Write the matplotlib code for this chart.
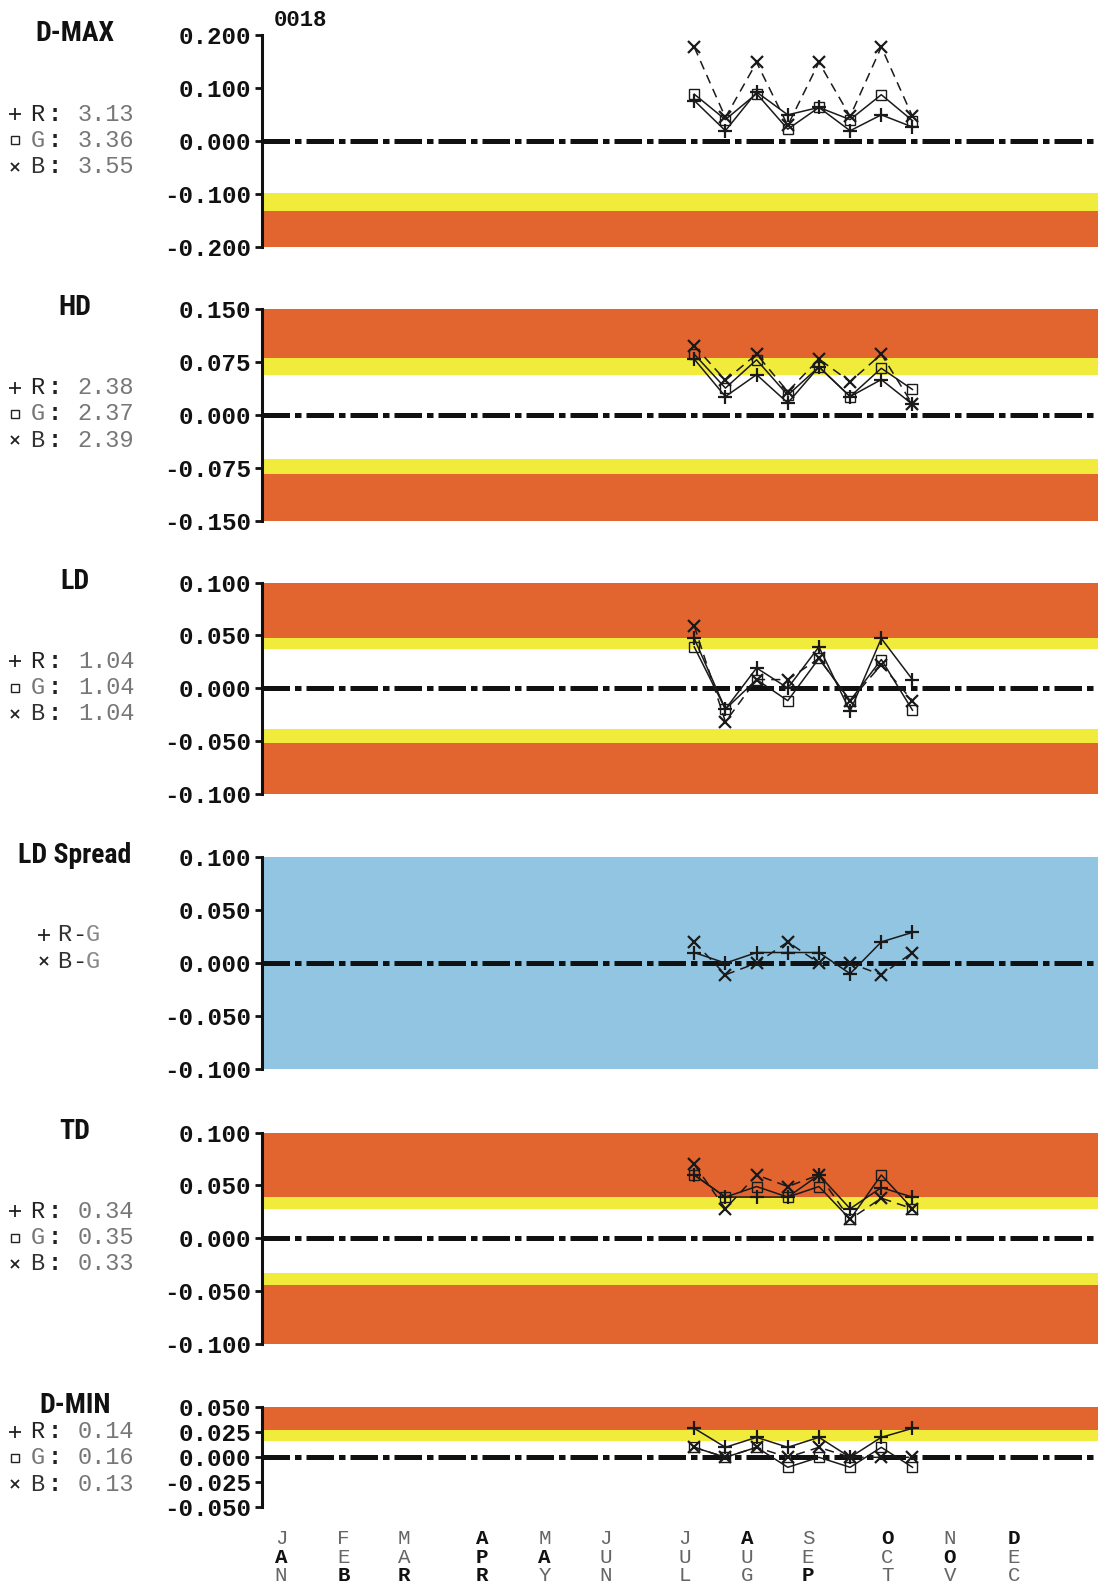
import matplotlib
matplotlib.use('Agg')
import matplotlib.pyplot as plt
from matplotlib.lines import Line2D
from matplotlib.transforms import blended_transform_factory
from matplotlib import font_manager as fm

plt.rcParams['axes.unicode_minus'] = False

# ---------------- data ----------------
weeks = [27.7, 29.7, 31.7, 33.7, 35.7, 37.7, 39.7, 41.7]

month_labels = ['JAN', 'FEB', 'MAR', 'APR', 'MAY', 'JUN',
                'JUL', 'AUG', 'SEP', 'OCT', 'NOV', 'DEC']
month_weeks = [1.2, 5.2, 9.1, 14.1, 18.1, 22.0, 27.1, 31.1, 35.0, 40.1, 44.1, 48.2]

dmax_r = [0.077, 0.020, 0.093, 0.050, 0.064, 0.020, 0.050, 0.027]
dmax_g = [0.089, 0.041, 0.090, 0.023, 0.064, 0.041, 0.088, 0.039]
dmax_b = [0.178, 0.045, 0.149, 0.030, 0.149, 0.047, 0.178, 0.047]

hd_r = [0.079, 0.026, 0.057, 0.017, 0.068, 0.026, 0.050, 0.015]
hd_g = [0.086, 0.038, 0.078, 0.028, 0.068, 0.026, 0.066, 0.036]
hd_b = [0.098, 0.049, 0.086, 0.033, 0.079, 0.047, 0.086, 0.015]

ld_r = [0.047, -0.020, 0.019, 0.000, 0.039, -0.022, 0.047, 0.008]
ld_g = [0.039, -0.020, 0.008, -0.012, 0.028, -0.012, 0.027, -0.021]
ld_b = [0.059, -0.032, 0.008, 0.008, 0.028, -0.012, 0.022, -0.012]

spread_rg = [0.010, 0.000, 0.010, 0.010, 0.010, -0.010, 0.020, 0.029]
spread_bg = [0.020, -0.011, 0.000, 0.020, 0.000, 0.000, -0.011, 0.010]

td_r = [0.060, 0.039, 0.039, 0.039, 0.060, 0.028, 0.048, 0.039]
td_g = [0.060, 0.039, 0.049, 0.039, 0.049, 0.018, 0.060, 0.028]
td_b = [0.070, 0.028, 0.060, 0.049, 0.060, 0.018, 0.038, 0.028]

dmin_r = [0.029, 0.010, 0.020, 0.010, 0.020, 0.000, 0.020, 0.029]
dmin_g = [0.010, 0.000, 0.010, -0.010, 0.000, -0.010, 0.010, -0.010]
dmin_b = [0.010, 0.000, 0.010, 0.000, 0.010, 0.000, 0.000, 0.000]

dmax_stats = ['3.13', '3.36', '3.55']
hd_stats = ['2.38', '2.37', '2.39']
ld_stats = ['1.04', '1.04', '1.04']
td_stats = ['0.34', '0.35', '0.33']
dmin_stats = ['0.14', '0.16', '0.13']

ORANGE = '#E2642E'
YELLOW = '#F1EC3B'
BLUE = '#92C5E2'

# band lists: (low, high, colour)
dmax_bands = [(-0.131, -0.098, YELLOW), (-0.2, -0.131, ORANGE)]
hd_bands = [(0.080, 0.150, ORANGE), (0.056, 0.080, YELLOW),
            (-0.084, -0.062, YELLOW), (-0.150, -0.084, ORANGE)]
ld_bands = [(0.047, 0.100, ORANGE), (0.037, 0.047, YELLOW),
            (-0.052, -0.039, YELLOW), (-0.100, -0.052, ORANGE)]
spread_bands = [(-0.100, 0.100, BLUE)]
td_bands = [(0.039, 0.100, ORANGE), (0.028, 0.039, YELLOW),
            (-0.044, -0.033, YELLOW), (-0.100, -0.044, ORANGE)]
dmin_bands = [(0.027, 0.050, ORANGE), (0.016, 0.027, YELLOW)]

# ---------------- fonts ----------------
def pick_font(cands):
    for fam, size in cands:
        try:
            fm.findfont(fm.FontProperties(family=fam, weight='bold'), fallback_to_default=False)
            return fam, size
        except Exception:
            pass
    return 'DejaVu Sans', 16

TITLE_FAM, TITLE_SIZE = pick_font([
    ('Liberation Sans Narrow', 21),
    ('Noto Sans ExtraCondensed', 22),
    ('Noto Sans Condensed', 20),
    ('Roboto Condensed', 20),
    ('Open Sans Condensed', 20),
    ('DejaVu Sans Condensed', 18),
    ('Liberation Sans', 17),
])
MONO = 'Liberation Mono'

# ---------------- layout helpers ----------------
W, H = 1098, 1583
SX, SY = W / 1088.0, H / 1568.0


def fx(x):
    return x * SX / W


def fy(y):
    return 1 - y * SY / H


fig = plt.figure(figsize=(W / 100, H / 100), dpi=100)

panels = [
    dict(title='D-MAX', top=35, bot=245, lim=0.2, ticks=[-0.2, -0.1, 0, 0.1, 0.2],
         bands=dmax_bands, series=[dmax_r, dmax_g, dmax_b], stats=dmax_stats,
         ttl_y=33, leg_y=[113, 139, 165]),
    dict(title='HD', top=306, bot=516, lim=0.15, ticks=[-0.15, -0.075, 0, 0.075, 0.15],
         bands=hd_bands, series=[hd_r, hd_g, hd_b], stats=hd_stats,
         ttl_y=305, leg_y=[384, 410, 436]),
    dict(title='LD', top=577, bot=786, lim=0.1, ticks=[-0.1, -0.05, 0, 0.05, 0.1],
         bands=ld_bands, series=[ld_r, ld_g, ld_b], stats=ld_stats,
         ttl_y=576, leg_y=[655, 681, 707]),
    dict(title='LD Spread', top=849, bot=1059, lim=0.1, ticks=[-0.1, -0.05, 0, 0.05, 0.1],
         bands=spread_bands, series=[spread_rg, None, spread_bg], stats=None,
         ttl_y=847, leg_y=[926, 952]),
    dict(title='TD', top=1122, bot=1331, lim=0.1, ticks=[-0.1, -0.05, 0, 0.05, 0.1],
         bands=td_bands, series=[td_r, td_g, td_b], stats=td_stats,
         ttl_y=1121, leg_y=[1200, 1226, 1252]),
    dict(title='D-MIN', top=1394, bot=1493, lim=0.05, ticks=[-0.05, -0.025, 0, 0.025, 0.05],
         bands=dmin_bands, series=[dmin_r, dmin_g, dmin_b], stats=dmin_stats,
         ttl_y=1392, leg_y=[1418, 1444, 1470]),
]

XMAX = 53.6
LEG_FS = 17
CW = 0.6 * LEG_FS * 100 / 72.0   # monospace char width in px
axes = []
for p in panels:
    ax = fig.add_axes([fx(260), fy(p['bot']), fx(1088) - fx(260), (p['bot'] - p['top']) * SY / H])
    axes.append(ax)
    ax.set_xlim(0, XMAX)
    ax.set_ylim(-p['lim'], p['lim'])
    for lo, hi, c in p['bands']:
        ax.axhspan(lo, hi, color=c, lw=0, zorder=0)
    ax.axhline(0, color='#111111', lw=3.6, dashes=(5.5, 1.0, 1.3, 1.0),
               dash_capstyle='butt', zorder=2)
    r, g, b = p['series']
    ax.plot(weeks, r, color='#1a1a1a', lw=1.1, marker='+', ms=10, mew=1.6, zorder=4)
    if g is not None:
        ax.plot(weeks, g, color='#1a1a1a', lw=1.1, marker='s', ms=7, mew=1.0,
                mfc='none', zorder=4)
    ax.plot(weeks, b, color='#1a1a1a', lw=1.1, marker='x', ms=8, mew=1.6,
            dashes=(6, 4), zorder=4)
    for s in ['top', 'right', 'bottom']:
        ax.spines[s].set_visible(False)
    ax.spines['left'].set_linewidth(2.2)
    ax.spines['left'].set_color('#111111')
    ax.set_xticks([])
    ax.set_yticks(p['ticks'])
    ax.set_yticklabels(['%.3f' % t if abs(t) > 1e-12 else '0.000' for t in p['ticks']],
                       fontfamily=MONO, fontweight='bold', fontsize=17.5, color='#111111')
    ax.tick_params(axis='y', length=5, width=2, pad=3, colors='#111111')

    # title
    fig.text(fx(74), fy(p['ttl_y']), p['title'], family=TITLE_FAM, fontweight='bold',
             fontsize=TITLE_SIZE, ha='center', va='center', color='#111111')

    # legend
    if p['stats'] is not None:
        marks = [('+', 9, 1.3), ('s', 6, 1.0), ('x', 6, 1.3)]
        letters = ['R', 'G', 'B']
        lcols = ['#222222', '#777777', '#333333']
        for i in range(3):
            y = fy(p['leg_y'][i])
            m, ms, mew = marks[i]
            fig.add_artist(Line2D([fx(15)], [y], marker=m, ms=ms, mew=mew, mfc='none',
                                  color='#222222', transform=fig.transFigure))
            x0 = fx(30)
            fig.text(x0, y, letters[i], family=MONO, fontsize=LEG_FS, color=lcols[i],
                     ha='left', va='center')
            fig.text(x0 + (CW + 3) / W, y, ':', family=MONO, fontsize=LEG_FS, color='#222222',
                     fontweight='bold', ha='left', va='center')
            fig.text(x0 + (3 * CW + 5) / W, y, p['stats'][i], family=MONO, fontsize=LEG_FS,
                     color='#777777', ha='left', va='center')
    else:
        for i, (m, lab) in enumerate([('+', 'R-G'), ('x', 'B-G')]):
            y = fy(p['leg_y'][i])
            fig.add_artist(Line2D([fx(44)], [y], marker=m, ms=9 if m == '+' else 6, mew=1.3,
                                  color='#222222', transform=fig.transFigure))
            x0 = fx(57)
            fig.text(x0, y, lab[0], family=MONO, fontsize=LEG_FS, color='#333333',
                     ha='left', va='center')
            fig.text(x0 + CW / W, y, lab[1], family=MONO, fontsize=LEG_FS, color='#222222',
                     ha='left', va='center')
            fig.text(x0 + 2 * CW / W, y, lab[2], family=MONO, fontsize=LEG_FS, color='#888888',
                     ha='left', va='center')

# header
fig.text(fx(271), fy(20), '0018', family=MONO, fontweight='bold', fontsize=16,
         ha='left', va='center', color='#111111')

# month labels (vertical letters)
bold_mask = ['NBN', 'NNB', 'NNB', 'BBB', 'NBN', 'NNN', 'NNN', 'BNN', 'NNB', 'BNN', 'NBN', 'BNN']
last = axes[-1]
trans = blended_transform_factory(last.transData, fig.transFigure)
rows = [1524, 1543, 1561]
for lab, wk, bm in zip(month_labels, month_weeks, bold_mask):
    for k, ch in enumerate(lab):
        bold = bm[k] == 'B'
        last.text(wk, fy(rows[k]), ch, transform=trans, family=MONO, fontsize=15,
                  fontweight='bold' if bold else 'normal',
                  color='#111111' if bold else '#666666', ha='center', va='center',
                  clip_on=False)

fig.savefig('out.png', dpi=100)
